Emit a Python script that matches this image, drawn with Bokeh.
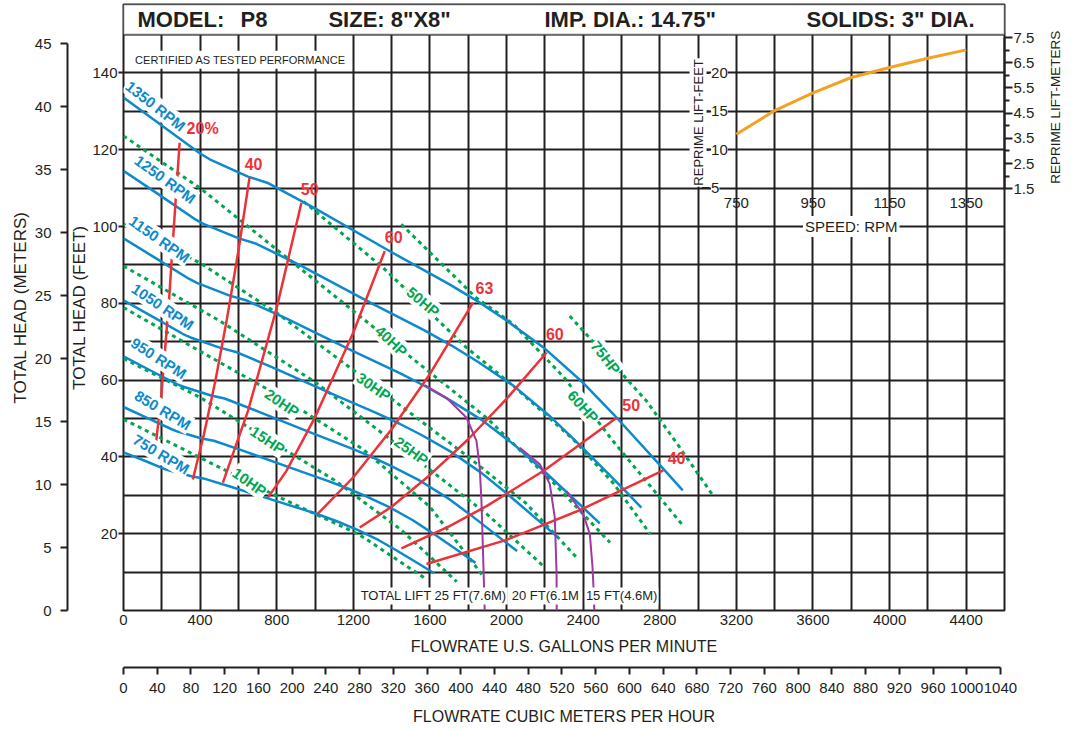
import math
import numpy as np
from bokeh.plotting import figure
from bokeh.models import (Range1d, LinearAxis, FixedTicker, SingleIntervalTicker, Label,
                          LabelSet, ColumnDataSource, BoxAnnotation, Grid)
from bokeh.core.properties import value
from bokeh.embed import file_html
from bokeh.resources import INLINE

# ============================ DATA ============================
# Head curves: flow (US GPM) vs total head (ft) at each pump speed
speeds = ["1350 RPM", "1250 RPM", "1150 RPM", "1050 RPM", "950 RPM", "850 RPM", "750 RPM"]
q_1350 = [0, 200, 400, 450, 650, 750, 1000, 1400, 1700, 1850, 2000, 2200, 2400, 2575, 2820, 2920]
h_1350 = [133.6, 126.3, 119.0, 117.5, 113.0, 111.4, 104.7, 93.3, 85.0, 80.5, 75.5, 68.2, 59.3, 50.2, 36.8, 31.3]
q_1250 = [0, 185, 370, 417, 602, 694, 926, 1296, 1574, 1713, 1852, 2037, 2222, 2384, 2611, 2704]
h_1250 = [114.5, 108.3, 102.0, 100.7, 96.9, 95.5, 89.8, 80.0, 72.9, 69.0, 64.7, 58.5, 50.8, 43.0, 31.6, 26.8]
q_1150 = [0, 170, 341, 383, 554, 639, 852, 1193, 1448, 1576, 1704, 1874, 2044, 2194, 2402, 2487]
h_1150 = [96.9, 91.7, 86.4, 85.3, 82.0, 80.8, 76.0, 67.7, 61.7, 58.4, 54.8, 49.5, 43.0, 36.4, 26.7, 22.7]
q_1050 = [0, 156, 311, 350, 506, 583, 778, 1089, 1322, 1439, 1556, 1711, 1867, 2003, 2193, 2271]
h_1050 = [80.8, 76.4, 72.0, 71.1, 68.4, 67.4, 63.3, 56.4, 51.4, 48.7, 45.7, 41.3, 35.9, 30.4, 22.3, 18.9]
q_950 = [0, 141, 281, 317, 457, 528, 704, 985, 1196, 1302, 1407, 1548, 1689, 1812, 1984, 2055]
h_950 = [66.2, 62.5, 58.9, 58.2, 56.0, 55.2, 51.8, 46.2, 42.1, 39.9, 37.4, 33.8, 29.4, 24.9, 18.2, 15.5]
q_850 = [0, 126, 252, 283, 409, 472, 630, 881, 1070, 1165, 1259, 1385, 1511, 1621, 1776, 1838]
h_850 = [53.0, 50.1, 47.2, 46.6, 44.8, 44.2, 41.5, 37.0, 33.7, 31.9, 29.9, 27.0, 23.5, 19.9, 14.6, 12.4]
q_750 = [0, 111, 222, 250, 361, 417, 556, 778, 944, 1028, 1111, 1222, 1333, 1431, 1567, 1622]
h_750 = [41.2, 39.0, 36.7, 36.3, 34.9, 34.4, 32.3, 28.8, 26.2, 24.8, 23.3, 21.0, 18.3, 15.5, 11.4, 9.7]

# Constant-power lines (HP)
hp_names = ["10HP", "15HP", "20HP", "25HP", "30HP", "40HP", "50HP", "60HP", "75HP"]
q_10hp = [0, 400, 800, 1230, 1580]
h_10hp = [49.8, 39.8, 29.8, 19.8, 8.2]
q_15hp = [0, 400, 750, 1100, 1450, 1740]
h_15hp = [65.6, 55.5, 44.7, 34.0, 21.0, 7.5]
q_20hp = [0, 400, 830, 1250, 1600, 1877]
h_20hp = [78.9, 67.5, 55.4, 42.0, 27.0, 9.0]
q_25hp = [0, 500, 1000, 1500, 1900, 2200]
h_25hp = [89.7, 75.5, 59.5, 40.5, 25.0, 11.2]
q_30hp = [0, 400, 800, 1310, 1800, 2100, 2366]
h_30hp = [100.6, 90.5, 77.5, 58.5, 40.0, 28.0, 13.8]
q_40hp = [0, 400, 900, 1400, 1900, 2250, 2540]
h_40hp = [123.6, 110.0, 90.0, 70.0, 50.0, 33.0, 17.7]
q_50hp = [940, 1355, 1790, 2035, 2350, 2560, 2750]
h_50hp = [106.5, 89.3, 68.5, 58.5, 44.5, 33.0, 19.9]
q_60hp = [1450, 1840, 2035, 2300, 2555, 2923]
h_60hp = [100.6, 81.5, 74.6, 60.7, 44.2, 22.0]
q_75hp = [2330, 2730, 2905, 3080]
h_75hp = [76.7, 54.6, 42.4, 29.8]

# Iso-efficiency lines (%)
eff_names = ["20%", "40", "50", "60", "63", "60", "50", "40"]
q_eff20 = [293, 258, 240, 218, 197, 171]
h_eff20 = [121.8, 96.3, 82.4, 68.5, 55.9, 44.2]
q_eff40a = [658, 600, 540, 480, 420, 362]
h_eff40a = [112.7, 93.7, 75.9, 59.9, 45.9, 34.1]
q_eff50a = [929, 800, 650, 519]
h_eff50a = [106.2, 78.8, 52.0, 33.3]
q_eff60a = [1364, 1200, 1000, 850, 754]
h_eff60a = [93.6, 72.4, 50.3, 36.3, 29.4]
q_eff63 = [1825, 1600, 1400, 1200, 1015]
h_eff63 = [80.2, 61.6, 47.2, 34.7, 25.2]
q_eff60b = [2209, 2000, 1800, 1600, 1400, 1233]
h_eff60b = [67.2, 55.1, 44.6, 35.3, 27.0, 21.6]
q_eff50b = [2575, 2200, 1900, 1700, 1451]
h_eff50b = [50.2, 36.6, 27.3, 21.9, 16.2]
q_eff40b = [2818, 2400, 2000, 1582]
h_eff40b = [36.5, 26.5, 18.4, 12.1]

# Total suction-lift limit curves
lift_names = ["TOTAL LIFT 25 FT(7.6M)", "20 FT(6.1M", "15 FT(4.6M)"]
q_lift25 = [1573, 1686, 1791, 1843, 1860, 1869, 1877, 1886]
h_lift25 = [58.7, 55.4, 50.2, 44.2, 37.2, 28.5, 15.5, 0]
q_lift20 = [2069, 2174, 2226, 2252, 2261, 2262]
h_lift20 = [42.4, 38.1, 32.9, 24.2, 10.0, 0]
q_lift15 = [2313, 2400, 2435, 2449, 2456, 2458]
h_lift15 = [31.1, 25.1, 19.9, 11.2, 4.0, 0]

# Inset: reprime lift vs speed
reprime_rpm = [750, 850, 950, 1050, 1150, 1250, 1350]
reprime_lift_ft = [12.0, 15.1, 17.4, 19.4, 20.7, 21.9, 23.0]
reprime_rpm_ticks = [750, 950, 1150, 1350]
reprime_ft_ticks = [5, 10, 15, 20]
reprime_m_ticks = [1.5, 2.5, 3.5, 4.5, 5.5, 6.5, 7.5]
reprime_m_minor = [2, 3, 4, 5, 6, 7]

# Axis ticks
gpm_ticks = list(range(0, 4401, 400))
m3h_ticks = list(range(0, 1041, 40))
ft_ticks = [20, 40, 60, 80, 100, 120, 140]

header_texts = ["MODEL:", "P8", "SIZE: 8\"X8\"", "IMP. DIA.: 14.75\"", "SOLIDS: 3\" DIA."]

# ============================ STYLE / LAYOUT ============================
DARK = "#231F20"
BLUE = "#0C8ACB"
GREEN = "#00A651"
RED = "#EC3238"
PURPLE = "#A03A9E"
ORANGE = "#F3A224"
SANS = "Liberation Sans"

GPM_MAX = 4600.0
FT_TOP = 606 / 3.84          # frame height 606px at 3.84 px/ft
M3H_PER_GPM = 1 / 4.40287
FT_PER_M = 3.28084

# inset mapping into the main grid
INSET_GPM0, GPM_PER_RPM, INSET_FT0, FT_PER_LIFT = 3200.0, 2.0, 100.0, 2.0
INSET_AXIS_GPM = 3000.0

p = figure(frame_width=881, frame_height=606,
           x_range=Range1d(0, GPM_MAX), y_range=Range1d(0, FT_TOP),
           x_axis_type=None, y_axis_type=None,
           output_backend="svg", toolbar_location=None,
           min_border_left=123, min_border_right=70, min_border_top=4, min_border_bottom=118,
           background_fill_color="white", border_fill_color="white")
p.outline_line_color = DARK
p.outline_line_width = 2

p.extra_x_ranges = {"m3h": Range1d(0, GPM_MAX * M3H_PER_GPM)}
p.extra_y_ranges = {"m": Range1d(0, FT_TOP / FT_PER_M),
                    "liftm": Range1d((0 - INSET_FT0) / (FT_PER_LIFT * FT_PER_M),
                                     (FT_TOP - INSET_FT0) / (FT_PER_LIFT * FT_PER_M))}

# grids
p.add_layout(Grid(dimension=0, ticker=SingleIntervalTicker(interval=200, num_minor_ticks=0),
                  grid_line_color=DARK, grid_line_width=2))
p.add_layout(Grid(dimension=1, ticker=SingleIntervalTicker(interval=10, num_minor_ticks=0),
                  grid_line_color=DARK, grid_line_width=2))

def style_axis(ax, title_size="16px"):
    ax.major_label_text_font = SANS
    ax.major_label_text_font_size = "15px"
    ax.major_label_text_color = DARK
    ax.axis_label_text_font = SANS
    ax.axis_label_text_font_size = title_size
    ax.axis_label_text_font_style = "normal"
    ax.axis_label_text_color = DARK
    ax.major_tick_line_color = DARK
    ax.major_tick_line_width = 2
    ax.minor_tick_line_color = DARK
    ax.minor_tick_line_width = 2
    ax.axis_line_color = DARK
    ax.axis_line_width = 2
    ax.major_tick_in = 0
    ax.minor_tick_in = 0

# bottom: GPM axis
ax_gpm = LinearAxis(ticker=FixedTicker(ticks=gpm_ticks), axis_label="FLOWRATE U.S. GALLONS PER MINUTE")
style_axis(ax_gpm)
ax_gpm.axis_line_color = None
ax_gpm.major_tick_out = 0
ax_gpm.major_label_standoff = 4
ax_gpm.axis_label_standoff = 10
p.add_layout(ax_gpm, "below")
# invisible spacer between the two bottom axes
spacer_b = LinearAxis(ticker=FixedTicker(ticks=[]), axis_line_color=None, major_tick_out=0,
                      axis_label=".", axis_label_text_alpha=0.0, axis_label_text_font_size="6px",
                      axis_label_standoff=3)
p.add_layout(spacer_b, "below")
ax_m3h = LinearAxis(x_range_name="m3h", ticker=FixedTicker(ticks=m3h_ticks), bounds=(0, 1040),
                    axis_label="FLOWRATE CUBIC METERS PER HOUR")
style_axis(ax_m3h)
ax_m3h.major_tick_out = 7
ax_m3h.major_label_standoff = 8
ax_m3h.axis_label_standoff = 12
p.add_layout(ax_m3h, "below")

# left: feet axis then meters axis
ax_ft = LinearAxis(ticker=FixedTicker(ticks=ft_ticks), axis_label="TOTAL HEAD (FEET)")
style_axis(ax_ft, "17px")
ax_ft.axis_line_color = None
ax_ft.major_tick_out = 5
ax_ft.major_label_standoff = 1
ax_ft.axis_label_standoff = 0
p.add_layout(ax_ft, "left")
ax_m = LinearAxis(y_range_name="m", ticker=SingleIntervalTicker(interval=5, num_minor_ticks=0),
                  bounds=(0, 45), axis_label="TOTAL HEAD (METERS)")
style_axis(ax_m, "17px")
ax_m.major_tick_out = 7
ax_m.major_label_standoff = 9
ax_m.axis_label_standoff = 2
p.add_layout(ax_m, "left")

# right: reprime lift meters (inset)
rotate_ok = "axis_label_orientation" in LinearAxis.properties()
NBSP = "\u00a0"
ax_lm = LinearAxis(y_range_name="liftm",
                   ticker=FixedTicker(ticks=reprime_m_ticks, minor_ticks=reprime_m_minor),
                   bounds=(reprime_m_ticks[0], reprime_m_ticks[-1]),
                   axis_label=(NBSP * 33 + "REPRIME LIFT-METERS") if rotate_ok else "REPRIME LIFT-METERS")
style_axis(ax_lm, "13.5px")
ax_lm.major_tick_out = 8
ax_lm.minor_tick_out = 5
ax_lm.major_label_standoff = 1
ax_lm.axis_label_standoff = 18
if rotate_ok:
    ax_lm.axis_label_orientation = math.pi / 2
p.add_layout(ax_lm, "right")

# header box
p.add_layout(BoxAnnotation(left=0, right=GPM_MAX, bottom=150, top=FT_TOP,
                           fill_color="white", fill_alpha=1.0,
                           line_color=DARK, line_width=2))

def add_label(text, x, y, color=DARK, size="15px", bold=False, angle=0.0,
              align="center", baseline="middle", bg=None, pad=0, **kw):
    lab = Label(x=x, y=y, text=text, text_color=color, text_font=SANS, text_font_size=size,
                text_font_style="bold" if bold else "normal", angle=angle, angle_units="deg",
                text_align=align, text_baseline=baseline, **kw)
    if bg is not None:
        lab.background_fill_color = bg
        lab.background_fill_alpha = 1.0
        lab.padding = pad
    p.add_layout(lab)
    return lab

header_pos = [(73, 153.8), (611, 153.8), (1070, 153.8), (2198, 153.8), (3566, 153.8)]
for t, (hx, hy) in zip(header_texts, header_pos):
    add_label(t, hx, hy, size="22px", bold=True, align="left")

add_label("CERTIFIED AS TESTED PERFORMANCE", 45, 143.4, size="11px",
          align="left", bg="white", pad=3)

# --------- curves ---------
hp_q = [q_10hp, q_15hp, q_20hp, q_25hp, q_30hp, q_40hp, q_50hp, q_60hp, q_75hp]
hp_h = [h_10hp, h_15hp, h_20hp, h_25hp, h_30hp, h_40hp, h_50hp, h_60hp, h_75hp]
for q, h in zip(hp_q, hp_h):
    p.line(q, h, line_color=GREEN, line_width=3, line_dash="4 4")

rpm_q = [q_1350, q_1250, q_1150, q_1050, q_950, q_850, q_750]
rpm_h = [h_1350, h_1250, h_1150, h_1050, h_950, h_850, h_750]
for q, h in zip(rpm_q, rpm_h):
    p.line(q, h, line_color=BLUE, line_width=2.5)

eff_q = [q_eff20, q_eff40a, q_eff50a, q_eff60a, q_eff63, q_eff60b, q_eff50b, q_eff40b]
eff_h = [h_eff20, h_eff40a, h_eff50a, h_eff60a, h_eff63, h_eff60b, h_eff50b, h_eff40b]
for q, h in zip(eff_q, eff_h):
    p.line(q, h, line_color=RED, line_width=2.5)

for q, h in zip([q_lift25, q_lift20, q_lift15], [h_lift25, h_lift20, h_lift15]):
    p.line(q, h, line_color=PURPLE, line_width=2)

# inset curve mapped into the main grid
inset_x = INSET_GPM0 + (np.array(reprime_rpm) - reprime_rpm[0]) * GPM_PER_RPM
inset_y = INSET_FT0 + np.array(reprime_lift_ft) * FT_PER_LIFT
p.line(inset_x, inset_y, line_color=ORANGE, line_width=3)

# inset left axis ticks + labels
tick_y = INSET_FT0 + np.array(reprime_ft_ticks) * FT_PER_LIFT
p.segment(x0=[INSET_AXIS_GPM + 20] * len(tick_y), y0=tick_y,
          x1=[INSET_AXIS_GPM + 60] * len(tick_y), y1=tick_y, line_color=DARK, line_width=2)
src_ft = ColumnDataSource(dict(x=[INSET_AXIS_GPM] * len(tick_y), y=tick_y,
                               t=[str(v) for v in reprime_ft_ticks]))
p.add_layout(LabelSet(x="x", y="y", text="t", source=src_ft, x_offset=13,
                      text_font=value(SANS), text_font_size="15px", text_color=DARK,
                      text_baseline="middle", text_align="left",
                      background_fill_color="white", background_fill_alpha=1.0))
rx = INSET_GPM0 + (np.array(reprime_rpm_ticks) - reprime_rpm[0]) * GPM_PER_RPM
src_rpm = ColumnDataSource(dict(x=rx, y=[INSET_FT0 + 3 * FT_PER_LIFT] * len(rx),
                                t=[str(v) for v in reprime_rpm_ticks]))
p.add_layout(LabelSet(x="x", y="y", text="t", source=src_rpm,
                      text_font=value(SANS), text_font_size="15px", text_color=DARK,
                      text_baseline="middle", text_align="center"))
add_label("SPEED: RPM", INSET_GPM0 + (1050 - reprime_rpm[0]) * GPM_PER_RPM, INSET_FT0,
          size="15px", bg="white", pad=2)
add_label("REPRIME LIFT-FEET", INSET_AXIS_GPM, 127.1, size="13px",
          angle=90, bg="white", pad=1)

# speed labels
rpm_lab_pos = [(167, 131.4, -38), (218, 112.3, -36), (188, 96.7, -35), (205, 79.1, -34),
               (184, 65.7, -33), (205, 52.2, -31), (197, 40.7, -31)]
for t, (lx, ly, la) in zip(speeds, rpm_lab_pos):
    add_label(t, lx, ly, color=BLUE, size="15px", bold=True, angle=la, bg="white", pad=1)

# HP labels
hp_lab_pos = [(658, 33.5, -35), (753, 44.4, -34), (828, 54.1, -34), (1503, 41.6, -36),
              (1306, 58.3, -35), (1399, 70.2, -43), (1564, 80.4, -40), (2400, 53.1, -48),
              (2518, 65.9, -52)]
for t, (lx, ly, la) in zip(hp_names, hp_lab_pos):
    add_label(t, lx, ly, color=GREEN, size="15px", bold=True, angle=la, bg="white", pad=1)

# efficiency labels
eff_lab_pos = [(413, 125.4), (679, 116.2), (972, 109.8), (1411, 97.2), (1885, 83.9),
               (2252, 72.0), (2651, 53.5), (2888, 39.8)]
p.text(x=[e[0] for e in eff_lab_pos], y=[e[1] for e in eff_lab_pos], text=eff_names,
       text_color=RED, text_font=value(SANS), text_font_size="16px",
       text_font_style="bold", text_align="center", text_baseline="middle")

# suction lift labels
lift_lab_pos = [(1233, 3.8), (2022, 3.8), (2409, 3.8)]
for t, (lx, ly) in zip(lift_names, lift_lab_pos):
    add_label(t, lx, ly, size="13px", align="left", bg="white", pad=1)

open("out.html", "w").write(file_html(p, INLINE))
